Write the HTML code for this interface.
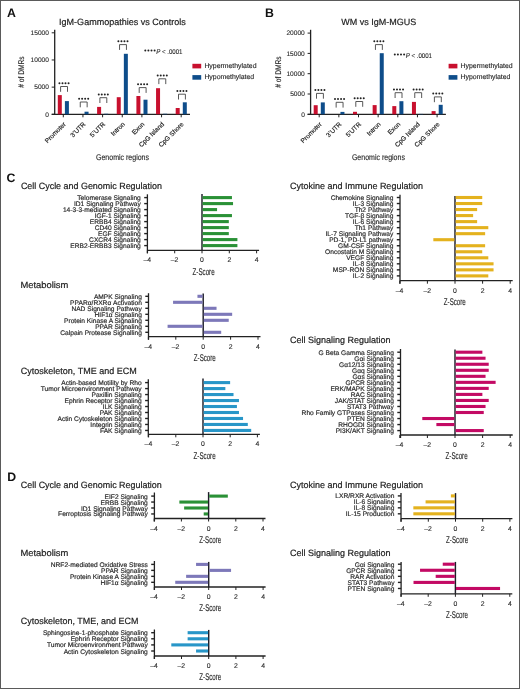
<!DOCTYPE html>
<html><head><meta charset="utf-8"><title>Figure</title>
<style>
html,body{margin:0;padding:0;background:#fff;}
body{width:520px;height:689px;overflow:hidden;position:relative;}
.frame{position:absolute;left:0;top:0;width:518px;height:687px;border:1px solid #5a5a5a;}
svg{position:absolute;left:0;top:0;font-family:"Liberation Sans", sans-serif;will-change:transform;text-rendering:geometricPrecision;}
</style></head>
<body>
<div class="frame"></div>
<svg width="520" height="689" viewBox="0 0 520 689" font-family='"Liberation Sans", sans-serif'>
<text x="7.00" y="16.80" font-size="12.3" font-weight="bold" fill="#111">A</text>
<text x="265.00" y="17.10" font-size="12.3" font-weight="bold" fill="#111">B</text>
<text x="6.60" y="181.80" font-size="12.3" font-weight="bold" fill="#111">C</text>
<text x="7.30" y="481.20" font-size="12.3" font-weight="bold" fill="#111">D</text>
<text x="59.10" y="24.60" font-size="9.1" textLength="126.7" lengthAdjust="spacingAndGlyphs" fill="#222" stroke="#222" stroke-width="0.2">IgM-Gammopathies vs Controls</text>
<line x1="54.70" y1="29.80" x2="54.70" y2="114.80" stroke="#222222" stroke-width="1.3"/>
<line x1="51.70" y1="114.30" x2="190.00" y2="114.30" stroke="#222222" stroke-width="1.3"/>
<line x1="51.70" y1="114.30" x2="54.70" y2="114.30" stroke="#222222" stroke-width="1.0"/>
<text x="48.90" y="116.60" font-size="6.6" text-anchor="end" fill="#2a2a2a" stroke="#2a2a2a" stroke-width="0.12">0</text>
<line x1="51.70" y1="87.13" x2="54.70" y2="87.13" stroke="#222222" stroke-width="1.0"/>
<text x="48.90" y="89.43" font-size="6.6" text-anchor="end" fill="#2a2a2a" stroke="#2a2a2a" stroke-width="0.12">5000</text>
<line x1="51.70" y1="59.97" x2="54.70" y2="59.97" stroke="#222222" stroke-width="1.0"/>
<text x="48.90" y="62.27" font-size="6.6" text-anchor="end" fill="#2a2a2a" stroke="#2a2a2a" stroke-width="0.12">10000</text>
<line x1="51.70" y1="32.80" x2="54.70" y2="32.80" stroke="#222222" stroke-width="1.0"/>
<text x="48.90" y="35.10" font-size="6.6" text-anchor="end" fill="#2a2a2a" stroke="#2a2a2a" stroke-width="0.12">15000</text>
<line x1="63.30" y1="114.30" x2="63.30" y2="117.30" stroke="#222222" stroke-width="1.0"/>
<rect x="57.80" y="95.10" width="4.00" height="19.20" fill="#c8102e"/>
<rect x="64.90" y="101.10" width="4.00" height="13.20" fill="#0e4d8a"/>
<path d="M60.60 91.80V86.50H67.50V91.80" fill="none" stroke="#444" stroke-width="0.9"/>
<circle cx="59.45" cy="83.20" r="1.0" fill="#222"/>
<circle cx="62.48" cy="83.20" r="1.0" fill="#222"/>
<circle cx="65.51" cy="83.20" r="1.0" fill="#222"/>
<circle cx="68.54" cy="83.20" r="1.0" fill="#222"/>
<text x="66.30" y="124.60" font-size="6.5" text-anchor="end" fill="#222" stroke="#222" stroke-width="0.18" transform="rotate(-45 66.30 124.60)">Promoter</text>
<line x1="82.95" y1="114.30" x2="82.95" y2="117.30" stroke="#222222" stroke-width="1.0"/>
<rect x="84.55" y="111.69" width="4.00" height="2.61" fill="#0e4d8a"/>
<path d="M80.25 107.30V102.00H87.15V107.30" fill="none" stroke="#444" stroke-width="0.9"/>
<circle cx="79.10" cy="98.70" r="1.0" fill="#222"/>
<circle cx="82.13" cy="98.70" r="1.0" fill="#222"/>
<circle cx="85.16" cy="98.70" r="1.0" fill="#222"/>
<circle cx="88.19" cy="98.70" r="1.0" fill="#222"/>
<text x="85.95" y="124.60" font-size="6.5" text-anchor="end" fill="#222" stroke="#222" stroke-width="0.18" transform="rotate(-45 85.95 124.60)">3&#8217;UTR</text>
<line x1="102.60" y1="114.30" x2="102.60" y2="117.30" stroke="#222222" stroke-width="1.0"/>
<rect x="97.10" y="106.90" width="4.00" height="7.40" fill="#c8102e"/>
<rect x="104.20" y="113.76" width="4.00" height="0.54" fill="#0e4d8a"/>
<path d="M99.90 103.00V97.70H106.80V103.00" fill="none" stroke="#444" stroke-width="0.9"/>
<circle cx="98.75" cy="94.40" r="1.0" fill="#222"/>
<circle cx="101.78" cy="94.40" r="1.0" fill="#222"/>
<circle cx="104.81" cy="94.40" r="1.0" fill="#222"/>
<circle cx="107.84" cy="94.40" r="1.0" fill="#222"/>
<text x="105.60" y="124.60" font-size="6.5" text-anchor="end" fill="#222" stroke="#222" stroke-width="0.18" transform="rotate(-45 105.60 124.60)">5&#8217;UTR</text>
<line x1="122.25" y1="114.30" x2="122.25" y2="117.30" stroke="#222222" stroke-width="1.0"/>
<rect x="116.75" y="97.20" width="4.00" height="17.10" fill="#c8102e"/>
<rect x="123.85" y="53.80" width="4.00" height="60.50" fill="#0e4d8a"/>
<path d="M119.55 49.90V44.60H126.45V49.90" fill="none" stroke="#444" stroke-width="0.9"/>
<circle cx="118.40" cy="41.30" r="1.0" fill="#222"/>
<circle cx="121.43" cy="41.30" r="1.0" fill="#222"/>
<circle cx="124.46" cy="41.30" r="1.0" fill="#222"/>
<circle cx="127.49" cy="41.30" r="1.0" fill="#222"/>
<text x="125.25" y="124.60" font-size="6.5" text-anchor="end" fill="#222" stroke="#222" stroke-width="0.18" transform="rotate(-45 125.25 124.60)">Intron</text>
<line x1="141.90" y1="114.30" x2="141.90" y2="117.30" stroke="#222222" stroke-width="1.0"/>
<rect x="136.40" y="96.00" width="4.00" height="18.30" fill="#c8102e"/>
<rect x="143.50" y="99.70" width="4.00" height="14.60" fill="#0e4d8a"/>
<path d="M139.20 92.90V87.60H146.10V92.90" fill="none" stroke="#444" stroke-width="0.9"/>
<circle cx="138.05" cy="84.30" r="1.0" fill="#222"/>
<circle cx="141.08" cy="84.30" r="1.0" fill="#222"/>
<circle cx="144.11" cy="84.30" r="1.0" fill="#222"/>
<circle cx="147.14" cy="84.30" r="1.0" fill="#222"/>
<text x="144.90" y="124.60" font-size="6.5" text-anchor="end" fill="#222" stroke="#222" stroke-width="0.18" transform="rotate(-45 144.90 124.60)">Exon</text>
<line x1="161.55" y1="114.30" x2="161.55" y2="117.30" stroke="#222222" stroke-width="1.0"/>
<rect x="156.05" y="88.20" width="4.00" height="26.10" fill="#c8102e"/>
<rect x="163.15" y="113.76" width="4.00" height="0.54" fill="#0e4d8a"/>
<path d="M158.85 84.10V78.80H165.75V84.10" fill="none" stroke="#444" stroke-width="0.9"/>
<circle cx="157.70" cy="75.50" r="1.0" fill="#222"/>
<circle cx="160.73" cy="75.50" r="1.0" fill="#222"/>
<circle cx="163.76" cy="75.50" r="1.0" fill="#222"/>
<circle cx="166.79" cy="75.50" r="1.0" fill="#222"/>
<text x="164.55" y="124.60" font-size="6.5" text-anchor="end" fill="#222" stroke="#222" stroke-width="0.18" transform="rotate(-45 164.55 124.60)">CpG Island</text>
<line x1="181.20" y1="114.30" x2="181.20" y2="117.30" stroke="#222222" stroke-width="1.0"/>
<rect x="175.70" y="108.00" width="4.00" height="6.30" fill="#c8102e"/>
<rect x="182.80" y="102.30" width="4.00" height="12.00" fill="#0e4d8a"/>
<path d="M178.50 99.50V94.20H185.40V99.50" fill="none" stroke="#444" stroke-width="0.9"/>
<circle cx="177.35" cy="90.90" r="1.0" fill="#222"/>
<circle cx="180.38" cy="90.90" r="1.0" fill="#222"/>
<circle cx="183.41" cy="90.90" r="1.0" fill="#222"/>
<circle cx="186.44" cy="90.90" r="1.0" fill="#222"/>
<text x="184.20" y="124.60" font-size="6.5" text-anchor="end" fill="#222" stroke="#222" stroke-width="0.18" transform="rotate(-45 184.20 124.60)">CpG Shore</text>
<text x="24.40" y="72.10" font-size="8.2" text-anchor="middle" fill="#2a2a2a" stroke="#2a2a2a" stroke-width="0.15" textLength="31.4" lengthAdjust="spacingAndGlyphs" transform="rotate(-90 24.40 72.10)"># of DMRs</text>
<text x="96.00" y="159.50" font-size="8.3" textLength="53" lengthAdjust="spacingAndGlyphs" fill="#2a2a2a" stroke="#2a2a2a" stroke-width="0.15">Genomic regions</text>
<circle cx="145.30" cy="50.50" r="1.0" fill="#222"/>
<circle cx="148.40" cy="50.50" r="1.0" fill="#222"/>
<circle cx="151.50" cy="50.50" r="1.0" fill="#222"/>
<circle cx="154.60" cy="50.50" r="1.0" fill="#222"/>
<text x="156.20" y="54.10" font-size="6.9" textLength="26.3" lengthAdjust="spacingAndGlyphs" fill="#2a2a2a" stroke="#2a2a2a" stroke-width="0.12"><tspan font-style="italic">P</tspan> &lt; .0001</text>
<rect x="192.40" y="63.80" width="8.80" height="4.60" fill="#c8102e"/>
<rect x="192.40" y="75.10" width="8.80" height="4.60" fill="#0e4d8a"/>
<text x="204.40" y="67.80" font-size="6.9" fill="#2a2a2a" stroke="#2a2a2a" stroke-width="0.15">Hypermethylated</text>
<text x="204.40" y="79.10" font-size="6.9" fill="#2a2a2a" stroke="#2a2a2a" stroke-width="0.15">Hypomethylated</text>
<text x="341.20" y="24.60" font-size="9.1" textLength="75.0" lengthAdjust="spacingAndGlyphs" fill="#222" stroke="#222" stroke-width="0.2">WM vs IgM-MGUS</text>
<line x1="310.60" y1="29.80" x2="310.60" y2="114.80" stroke="#222222" stroke-width="1.3"/>
<line x1="307.60" y1="114.30" x2="445.90" y2="114.30" stroke="#222222" stroke-width="1.3"/>
<line x1="307.60" y1="114.30" x2="310.60" y2="114.30" stroke="#222222" stroke-width="1.0"/>
<text x="304.80" y="116.60" font-size="6.6" text-anchor="end" fill="#2a2a2a" stroke="#2a2a2a" stroke-width="0.12">0</text>
<line x1="307.60" y1="94.00" x2="310.60" y2="94.00" stroke="#222222" stroke-width="1.0"/>
<text x="304.80" y="96.30" font-size="6.6" text-anchor="end" fill="#2a2a2a" stroke="#2a2a2a" stroke-width="0.12">5000</text>
<line x1="307.60" y1="73.70" x2="310.60" y2="73.70" stroke="#222222" stroke-width="1.0"/>
<text x="304.80" y="76.00" font-size="6.6" text-anchor="end" fill="#2a2a2a" stroke="#2a2a2a" stroke-width="0.12">10000</text>
<line x1="307.60" y1="53.40" x2="310.60" y2="53.40" stroke="#222222" stroke-width="1.0"/>
<text x="304.80" y="55.70" font-size="6.6" text-anchor="end" fill="#2a2a2a" stroke="#2a2a2a" stroke-width="0.12">15000</text>
<line x1="307.60" y1="33.10" x2="310.60" y2="33.10" stroke="#222222" stroke-width="1.0"/>
<text x="304.80" y="35.40" font-size="6.6" text-anchor="end" fill="#2a2a2a" stroke="#2a2a2a" stroke-width="0.12">20000</text>
<line x1="319.20" y1="114.30" x2="319.20" y2="117.30" stroke="#222222" stroke-width="1.0"/>
<rect x="313.70" y="105.20" width="4.00" height="9.10" fill="#c8102e"/>
<rect x="320.80" y="102.40" width="4.00" height="11.90" fill="#0e4d8a"/>
<path d="M316.50 98.70V93.40H323.40V98.70" fill="none" stroke="#444" stroke-width="0.9"/>
<circle cx="315.35" cy="90.10" r="1.0" fill="#222"/>
<circle cx="318.38" cy="90.10" r="1.0" fill="#222"/>
<circle cx="321.41" cy="90.10" r="1.0" fill="#222"/>
<circle cx="324.44" cy="90.10" r="1.0" fill="#222"/>
<text x="322.20" y="124.60" font-size="6.5" text-anchor="end" fill="#222" stroke="#222" stroke-width="0.18" transform="rotate(-45 322.20 124.60)">Promoter</text>
<line x1="338.85" y1="114.30" x2="338.85" y2="117.30" stroke="#222222" stroke-width="1.0"/>
<rect x="340.45" y="111.90" width="4.00" height="2.40" fill="#0e4d8a"/>
<path d="M336.15 107.60V102.30H343.05V107.60" fill="none" stroke="#444" stroke-width="0.9"/>
<circle cx="335.00" cy="99.00" r="1.0" fill="#222"/>
<circle cx="338.03" cy="99.00" r="1.0" fill="#222"/>
<circle cx="341.06" cy="99.00" r="1.0" fill="#222"/>
<circle cx="344.09" cy="99.00" r="1.0" fill="#222"/>
<text x="341.85" y="124.60" font-size="6.5" text-anchor="end" fill="#222" stroke="#222" stroke-width="0.18" transform="rotate(-45 341.85 124.60)">3&#8217;UTR</text>
<line x1="358.50" y1="114.30" x2="358.50" y2="117.30" stroke="#222222" stroke-width="1.0"/>
<rect x="353.00" y="111.80" width="4.00" height="2.50" fill="#c8102e"/>
<path d="M355.80 106.80V101.50H362.70V106.80" fill="none" stroke="#444" stroke-width="0.9"/>
<circle cx="354.65" cy="98.20" r="1.0" fill="#222"/>
<circle cx="357.68" cy="98.20" r="1.0" fill="#222"/>
<circle cx="360.71" cy="98.20" r="1.0" fill="#222"/>
<circle cx="363.74" cy="98.20" r="1.0" fill="#222"/>
<text x="361.50" y="124.60" font-size="6.5" text-anchor="end" fill="#222" stroke="#222" stroke-width="0.18" transform="rotate(-45 361.50 124.60)">5&#8217;UTR</text>
<line x1="378.15" y1="114.30" x2="378.15" y2="117.30" stroke="#222222" stroke-width="1.0"/>
<rect x="372.65" y="105.10" width="4.00" height="9.20" fill="#c8102e"/>
<rect x="379.75" y="53.20" width="4.00" height="61.10" fill="#0e4d8a"/>
<path d="M375.45 49.90V44.60H382.35V49.90" fill="none" stroke="#444" stroke-width="0.9"/>
<circle cx="374.30" cy="41.30" r="1.0" fill="#222"/>
<circle cx="377.33" cy="41.30" r="1.0" fill="#222"/>
<circle cx="380.36" cy="41.30" r="1.0" fill="#222"/>
<circle cx="383.39" cy="41.30" r="1.0" fill="#222"/>
<text x="381.15" y="124.60" font-size="6.5" text-anchor="end" fill="#222" stroke="#222" stroke-width="0.18" transform="rotate(-45 381.15 124.60)">Intron</text>
<line x1="397.80" y1="114.30" x2="397.80" y2="117.30" stroke="#222222" stroke-width="1.0"/>
<rect x="392.30" y="106.10" width="4.00" height="8.20" fill="#c8102e"/>
<rect x="399.40" y="101.20" width="4.00" height="13.10" fill="#0e4d8a"/>
<path d="M395.10 98.00V92.70H402.00V98.00" fill="none" stroke="#444" stroke-width="0.9"/>
<circle cx="393.95" cy="89.40" r="1.0" fill="#222"/>
<circle cx="396.98" cy="89.40" r="1.0" fill="#222"/>
<circle cx="400.01" cy="89.40" r="1.0" fill="#222"/>
<circle cx="403.04" cy="89.40" r="1.0" fill="#222"/>
<text x="400.80" y="124.60" font-size="6.5" text-anchor="end" fill="#222" stroke="#222" stroke-width="0.18" transform="rotate(-45 400.80 124.60)">Exon</text>
<line x1="417.45" y1="114.30" x2="417.45" y2="117.30" stroke="#222222" stroke-width="1.0"/>
<rect x="411.95" y="101.90" width="4.00" height="12.40" fill="#c8102e"/>
<rect x="419.05" y="113.93" width="4.00" height="0.37" fill="#0e4d8a"/>
<path d="M414.75 98.00V92.70H421.65V98.00" fill="none" stroke="#444" stroke-width="0.9"/>
<circle cx="413.60" cy="89.40" r="1.0" fill="#222"/>
<circle cx="416.63" cy="89.40" r="1.0" fill="#222"/>
<circle cx="419.66" cy="89.40" r="1.0" fill="#222"/>
<circle cx="422.69" cy="89.40" r="1.0" fill="#222"/>
<text x="420.45" y="124.60" font-size="6.5" text-anchor="end" fill="#222" stroke="#222" stroke-width="0.18" transform="rotate(-45 420.45 124.60)">CpG Island</text>
<line x1="437.10" y1="114.30" x2="437.10" y2="117.30" stroke="#222222" stroke-width="1.0"/>
<rect x="431.60" y="111.10" width="4.00" height="3.20" fill="#c8102e"/>
<rect x="438.70" y="104.80" width="4.00" height="9.50" fill="#0e4d8a"/>
<path d="M434.40 102.20V96.90H441.30V102.20" fill="none" stroke="#444" stroke-width="0.9"/>
<circle cx="433.25" cy="93.60" r="1.0" fill="#222"/>
<circle cx="436.28" cy="93.60" r="1.0" fill="#222"/>
<circle cx="439.31" cy="93.60" r="1.0" fill="#222"/>
<circle cx="442.34" cy="93.60" r="1.0" fill="#222"/>
<text x="440.10" y="124.60" font-size="6.5" text-anchor="end" fill="#222" stroke="#222" stroke-width="0.18" transform="rotate(-45 440.10 124.60)">CpG Shore</text>
<text x="280.80" y="72.10" font-size="8.2" text-anchor="middle" fill="#2a2a2a" stroke="#2a2a2a" stroke-width="0.15" textLength="31.4" lengthAdjust="spacingAndGlyphs" transform="rotate(-90 280.80 72.10)"># of DMRs</text>
<text x="351.90" y="159.50" font-size="8.3" textLength="53" lengthAdjust="spacingAndGlyphs" fill="#2a2a2a" stroke="#2a2a2a" stroke-width="0.15">Genomic regions</text>
<circle cx="394.80" cy="54.50" r="1.0" fill="#222"/>
<circle cx="397.90" cy="54.50" r="1.0" fill="#222"/>
<circle cx="401.00" cy="54.50" r="1.0" fill="#222"/>
<circle cx="404.10" cy="54.50" r="1.0" fill="#222"/>
<text x="405.70" y="58.10" font-size="6.9" textLength="26.3" lengthAdjust="spacingAndGlyphs" fill="#2a2a2a" stroke="#2a2a2a" stroke-width="0.12"><tspan font-style="italic">P</tspan> &lt; .0001</text>
<rect x="448.60" y="63.80" width="8.80" height="4.60" fill="#c8102e"/>
<rect x="448.60" y="75.10" width="8.80" height="4.60" fill="#0e4d8a"/>
<text x="460.60" y="67.80" font-size="6.9" fill="#2a2a2a" stroke="#2a2a2a" stroke-width="0.15">Hypermethylated</text>
<text x="460.60" y="79.10" font-size="6.9" fill="#2a2a2a" stroke="#2a2a2a" stroke-width="0.15">Hypomethylated</text>
<text x="20.90" y="189.20" font-size="9.1" textLength="141" lengthAdjust="spacingAndGlyphs" fill="#222" stroke="#222" stroke-width="0.2">Cell Cycle and Genomic Regulation</text>
<line x1="147.40" y1="194.30" x2="147.40" y2="253.30" stroke="#222222" stroke-width="1.3"/>
<line x1="147.40" y1="250.30" x2="259.10" y2="250.30" stroke="#222222" stroke-width="1.3"/>
<line x1="202.00" y1="193.90" x2="202.00" y2="250.30" stroke="#1e1e28" stroke-width="1.45"/>
<line x1="144.20" y1="197.60" x2="147.40" y2="197.60" stroke="#222222" stroke-width="1.4"/>
<text x="140.80" y="200.10" font-size="6.65" text-anchor="end" fill="#2a2a2a" stroke="#2a2a2a" stroke-width="0.18">Telomerase Signaling</text>
<rect x="202.60" y="196.05" width="29.35" height="3.10" fill="#2a9136"/>
<line x1="144.20" y1="203.60" x2="147.40" y2="203.60" stroke="#222222" stroke-width="1.4"/>
<text x="140.80" y="206.10" font-size="6.65" text-anchor="end" fill="#2a2a2a" stroke="#2a2a2a" stroke-width="0.18">ID1 Signaling Pathway</text>
<rect x="202.60" y="202.05" width="30.44" height="3.10" fill="#2a9136"/>
<line x1="144.20" y1="209.60" x2="147.40" y2="209.60" stroke="#222222" stroke-width="1.4"/>
<text x="140.80" y="212.10" font-size="6.65" text-anchor="end" fill="#2a2a2a" stroke="#2a2a2a" stroke-width="0.18">14-3-3-mediated Signaling</text>
<rect x="202.60" y="208.05" width="14.47" height="3.10" fill="#2a9136"/>
<line x1="144.20" y1="215.60" x2="147.40" y2="215.60" stroke="#222222" stroke-width="1.4"/>
<text x="140.80" y="218.10" font-size="6.65" text-anchor="end" fill="#2a2a2a" stroke="#2a2a2a" stroke-width="0.18">IGF-1 Signaling</text>
<rect x="202.60" y="214.05" width="29.35" height="3.10" fill="#2a9136"/>
<line x1="144.20" y1="221.60" x2="147.40" y2="221.60" stroke="#222222" stroke-width="1.4"/>
<text x="140.80" y="224.10" font-size="6.65" text-anchor="end" fill="#2a2a2a" stroke="#2a2a2a" stroke-width="0.18">ERBB4 Signaling</text>
<rect x="202.60" y="220.05" width="26.21" height="3.10" fill="#2a9136"/>
<line x1="144.20" y1="227.60" x2="147.40" y2="227.60" stroke="#222222" stroke-width="1.4"/>
<text x="140.80" y="230.10" font-size="6.65" text-anchor="end" fill="#2a2a2a" stroke="#2a2a2a" stroke-width="0.18">CD40 Signaling</text>
<rect x="202.60" y="226.05" width="26.21" height="3.10" fill="#2a9136"/>
<line x1="144.20" y1="233.60" x2="147.40" y2="233.60" stroke="#222222" stroke-width="1.4"/>
<text x="140.80" y="236.10" font-size="6.65" text-anchor="end" fill="#2a2a2a" stroke="#2a2a2a" stroke-width="0.18">EGF Signaling</text>
<rect x="202.60" y="232.05" width="26.21" height="3.10" fill="#2a9136"/>
<line x1="144.20" y1="239.60" x2="147.40" y2="239.60" stroke="#222222" stroke-width="1.4"/>
<text x="140.80" y="242.10" font-size="6.65" text-anchor="end" fill="#2a2a2a" stroke="#2a2a2a" stroke-width="0.18">CXCR4 Signaling</text>
<rect x="202.60" y="238.05" width="34.81" height="3.10" fill="#2a9136"/>
<line x1="144.20" y1="245.60" x2="147.40" y2="245.60" stroke="#222222" stroke-width="1.4"/>
<text x="140.80" y="248.10" font-size="6.65" text-anchor="end" fill="#2a2a2a" stroke="#2a2a2a" stroke-width="0.18">ERB2-ERBB3 Signaling</text>
<rect x="202.60" y="244.05" width="34.81" height="3.10" fill="#2a9136"/>
<line x1="147.40" y1="250.30" x2="147.40" y2="253.30" stroke="#222222" stroke-width="1.0"/>
<text x="147.20" y="262.40" font-size="6.85" text-anchor="middle" fill="#2a2a2a" stroke="#2a2a2a" stroke-width="0.12">–4</text>
<line x1="174.70" y1="250.30" x2="174.70" y2="253.30" stroke="#222222" stroke-width="1.0"/>
<text x="174.50" y="262.40" font-size="6.85" text-anchor="middle" fill="#2a2a2a" stroke="#2a2a2a" stroke-width="0.12">–2</text>
<line x1="202.00" y1="250.30" x2="202.00" y2="253.30" stroke="#222222" stroke-width="1.0"/>
<text x="202.00" y="262.40" font-size="6.85" text-anchor="middle" fill="#2a2a2a" stroke="#2a2a2a" stroke-width="0.12">0</text>
<line x1="229.30" y1="250.30" x2="229.30" y2="253.30" stroke="#222222" stroke-width="1.0"/>
<text x="229.30" y="262.40" font-size="6.85" text-anchor="middle" fill="#2a2a2a" stroke="#2a2a2a" stroke-width="0.12">2</text>
<line x1="256.60" y1="250.30" x2="256.60" y2="253.30" stroke="#222222" stroke-width="1.0"/>
<text x="256.60" y="262.40" font-size="6.85" text-anchor="middle" fill="#2a2a2a" stroke="#2a2a2a" stroke-width="0.12">4</text>
<text x="203.60" y="274.60" font-size="9.8" text-anchor="middle" textLength="22" lengthAdjust="spacingAndGlyphs" fill="#2a2a2a" stroke="#2a2a2a" stroke-width="0.15">Z-Score</text>
<text x="20.40" y="287.50" font-size="9.1" textLength="48.0" lengthAdjust="spacingAndGlyphs" fill="#222" stroke="#222" stroke-width="0.2">Metabolism</text>
<line x1="148.50" y1="293.20" x2="148.50" y2="339.70" stroke="#222222" stroke-width="1.3"/>
<line x1="148.50" y1="336.70" x2="260.50" y2="336.70" stroke="#222222" stroke-width="1.3"/>
<line x1="203.20" y1="293.60" x2="203.20" y2="336.70" stroke="#1e1e28" stroke-width="1.45"/>
<line x1="145.30" y1="296.30" x2="148.50" y2="296.30" stroke="#222222" stroke-width="1.4"/>
<text x="141.90" y="298.80" font-size="6.65" text-anchor="end" fill="#2a2a2a" stroke="#2a2a2a" stroke-width="0.18">AMPK Signaling</text>
<rect x="197.45" y="294.75" width="5.15" height="3.10" fill="#7d78b9"/>
<line x1="145.30" y1="302.30" x2="148.50" y2="302.30" stroke="#222222" stroke-width="1.4"/>
<text x="141.90" y="304.80" font-size="6.65" text-anchor="end" fill="#2a2a2a" stroke="#2a2a2a" stroke-width="0.18">PPARα/RXRα Activation</text>
<rect x="173.06" y="300.75" width="29.54" height="3.10" fill="#7d78b9"/>
<line x1="145.30" y1="308.30" x2="148.50" y2="308.30" stroke="#222222" stroke-width="1.4"/>
<text x="141.90" y="310.80" font-size="6.65" text-anchor="end" fill="#2a2a2a" stroke="#2a2a2a" stroke-width="0.18">NAD Signaling Pathway</text>
<rect x="203.80" y="306.75" width="12.74" height="3.10" fill="#7d78b9"/>
<line x1="145.30" y1="314.30" x2="148.50" y2="314.30" stroke="#222222" stroke-width="1.4"/>
<text x="141.90" y="316.80" font-size="6.65" text-anchor="end" fill="#2a2a2a" stroke="#2a2a2a" stroke-width="0.18">HIF1α Signaling</text>
<rect x="203.80" y="312.75" width="28.36" height="3.10" fill="#7d78b9"/>
<line x1="145.30" y1="320.30" x2="148.50" y2="320.30" stroke="#222222" stroke-width="1.4"/>
<text x="141.90" y="322.80" font-size="6.65" text-anchor="end" fill="#2a2a2a" stroke="#2a2a2a" stroke-width="0.18">Protein Kinase A Signaling</text>
<rect x="203.80" y="318.75" width="24.93" height="3.10" fill="#7d78b9"/>
<line x1="145.30" y1="326.30" x2="148.50" y2="326.30" stroke="#222222" stroke-width="1.4"/>
<text x="141.90" y="328.80" font-size="6.65" text-anchor="end" fill="#2a2a2a" stroke="#2a2a2a" stroke-width="0.18">PPAR Signaling</text>
<rect x="167.58" y="324.75" width="35.02" height="3.10" fill="#7d78b9"/>
<line x1="145.30" y1="332.30" x2="148.50" y2="332.30" stroke="#222222" stroke-width="1.4"/>
<text x="141.90" y="334.80" font-size="6.65" text-anchor="end" fill="#2a2a2a" stroke="#2a2a2a" stroke-width="0.18">Calpain Protease Signalling</text>
<rect x="203.80" y="330.75" width="17.40" height="3.10" fill="#7d78b9"/>
<line x1="148.40" y1="336.70" x2="148.40" y2="339.70" stroke="#222222" stroke-width="1.0"/>
<text x="148.20" y="348.80" font-size="6.85" text-anchor="middle" fill="#2a2a2a" stroke="#2a2a2a" stroke-width="0.12">–4</text>
<line x1="175.80" y1="336.70" x2="175.80" y2="339.70" stroke="#222222" stroke-width="1.0"/>
<text x="175.60" y="348.80" font-size="6.85" text-anchor="middle" fill="#2a2a2a" stroke="#2a2a2a" stroke-width="0.12">–2</text>
<line x1="203.20" y1="336.70" x2="203.20" y2="339.70" stroke="#222222" stroke-width="1.0"/>
<text x="203.20" y="348.80" font-size="6.85" text-anchor="middle" fill="#2a2a2a" stroke="#2a2a2a" stroke-width="0.12">0</text>
<line x1="230.60" y1="336.70" x2="230.60" y2="339.70" stroke="#222222" stroke-width="1.0"/>
<text x="230.60" y="348.80" font-size="6.85" text-anchor="middle" fill="#2a2a2a" stroke="#2a2a2a" stroke-width="0.12">2</text>
<line x1="258.00" y1="336.70" x2="258.00" y2="339.70" stroke="#222222" stroke-width="1.0"/>
<text x="258.00" y="348.80" font-size="6.85" text-anchor="middle" fill="#2a2a2a" stroke="#2a2a2a" stroke-width="0.12">4</text>
<text x="204.80" y="361.00" font-size="9.8" text-anchor="middle" textLength="22" lengthAdjust="spacingAndGlyphs" fill="#2a2a2a" stroke="#2a2a2a" stroke-width="0.15">Z-Score</text>
<text x="20.80" y="374.30" font-size="9.1" textLength="116.0" lengthAdjust="spacingAndGlyphs" fill="#222" stroke="#222" stroke-width="0.2">Cytoskeleton, TME and ECM</text>
<line x1="148.30" y1="379.20" x2="148.30" y2="437.30" stroke="#222222" stroke-width="1.3"/>
<line x1="148.30" y1="434.30" x2="259.90" y2="434.30" stroke="#222222" stroke-width="1.3"/>
<line x1="203.00" y1="378.50" x2="203.00" y2="434.30" stroke="#1e1e28" stroke-width="1.45"/>
<line x1="145.10" y1="382.60" x2="148.30" y2="382.60" stroke="#222222" stroke-width="1.4"/>
<text x="141.70" y="385.10" font-size="6.65" text-anchor="end" fill="#2a2a2a" stroke="#2a2a2a" stroke-width="0.18">Actin-based Motility by Rho</text>
<rect x="203.60" y="381.05" width="26.52" height="3.10" fill="#2896c8"/>
<line x1="145.10" y1="388.58" x2="148.30" y2="388.58" stroke="#222222" stroke-width="1.4"/>
<text x="141.70" y="391.08" font-size="6.65" text-anchor="end" fill="#2a2a2a" stroke="#2a2a2a" stroke-width="0.18">Tumor Microenvironment Pathway</text>
<rect x="203.60" y="387.03" width="21.76" height="3.10" fill="#2896c8"/>
<line x1="145.10" y1="394.56" x2="148.30" y2="394.56" stroke="#222222" stroke-width="1.4"/>
<text x="141.70" y="397.06" font-size="6.65" text-anchor="end" fill="#2a2a2a" stroke="#2a2a2a" stroke-width="0.18">Paxillin Signaling</text>
<rect x="203.60" y="393.01" width="29.92" height="3.10" fill="#2896c8"/>
<line x1="145.10" y1="400.54" x2="148.30" y2="400.54" stroke="#222222" stroke-width="1.4"/>
<text x="141.70" y="403.04" font-size="6.65" text-anchor="end" fill="#2a2a2a" stroke="#2a2a2a" stroke-width="0.18">Ephrin Receptor Signaling</text>
<rect x="203.60" y="398.99" width="35.36" height="3.10" fill="#2896c8"/>
<line x1="145.10" y1="406.52" x2="148.30" y2="406.52" stroke="#222222" stroke-width="1.4"/>
<text x="141.70" y="409.02" font-size="6.65" text-anchor="end" fill="#2a2a2a" stroke="#2a2a2a" stroke-width="0.18">ILK Signaling</text>
<rect x="203.60" y="404.97" width="33.32" height="3.10" fill="#2896c8"/>
<line x1="145.10" y1="412.50" x2="148.30" y2="412.50" stroke="#222222" stroke-width="1.4"/>
<text x="141.70" y="415.00" font-size="6.65" text-anchor="end" fill="#2a2a2a" stroke="#2a2a2a" stroke-width="0.18">PAK Signaling</text>
<rect x="203.60" y="410.95" width="35.36" height="3.10" fill="#2896c8"/>
<line x1="145.10" y1="418.48" x2="148.30" y2="418.48" stroke="#222222" stroke-width="1.4"/>
<text x="141.70" y="420.98" font-size="6.65" text-anchor="end" fill="#2a2a2a" stroke="#2a2a2a" stroke-width="0.18">Actin Cytoskeleton Signaling</text>
<rect x="203.60" y="416.93" width="39.44" height="3.10" fill="#2896c8"/>
<line x1="145.10" y1="424.46" x2="148.30" y2="424.46" stroke="#222222" stroke-width="1.4"/>
<text x="141.70" y="426.96" font-size="6.65" text-anchor="end" fill="#2a2a2a" stroke="#2a2a2a" stroke-width="0.18">Integrin Signaling</text>
<rect x="203.60" y="422.91" width="44.20" height="3.10" fill="#2896c8"/>
<line x1="145.10" y1="430.44" x2="148.30" y2="430.44" stroke="#222222" stroke-width="1.4"/>
<text x="141.70" y="432.94" font-size="6.65" text-anchor="end" fill="#2a2a2a" stroke="#2a2a2a" stroke-width="0.18">FAK Signaling</text>
<rect x="203.60" y="428.89" width="47.60" height="3.10" fill="#2896c8"/>
<line x1="148.60" y1="434.30" x2="148.60" y2="437.30" stroke="#222222" stroke-width="1.0"/>
<text x="148.40" y="446.40" font-size="6.85" text-anchor="middle" fill="#2a2a2a" stroke="#2a2a2a" stroke-width="0.12">–4</text>
<line x1="175.80" y1="434.30" x2="175.80" y2="437.30" stroke="#222222" stroke-width="1.0"/>
<text x="175.60" y="446.40" font-size="6.85" text-anchor="middle" fill="#2a2a2a" stroke="#2a2a2a" stroke-width="0.12">–2</text>
<line x1="203.00" y1="434.30" x2="203.00" y2="437.30" stroke="#222222" stroke-width="1.0"/>
<text x="203.00" y="446.40" font-size="6.85" text-anchor="middle" fill="#2a2a2a" stroke="#2a2a2a" stroke-width="0.12">0</text>
<line x1="230.20" y1="434.30" x2="230.20" y2="437.30" stroke="#222222" stroke-width="1.0"/>
<text x="230.20" y="446.40" font-size="6.85" text-anchor="middle" fill="#2a2a2a" stroke="#2a2a2a" stroke-width="0.12">2</text>
<line x1="257.40" y1="434.30" x2="257.40" y2="437.30" stroke="#222222" stroke-width="1.0"/>
<text x="257.40" y="446.40" font-size="6.85" text-anchor="middle" fill="#2a2a2a" stroke="#2a2a2a" stroke-width="0.12">4</text>
<text x="204.60" y="458.60" font-size="9.8" text-anchor="middle" textLength="22" lengthAdjust="spacingAndGlyphs" fill="#2a2a2a" stroke="#2a2a2a" stroke-width="0.15">Z-Score</text>
<text x="289.90" y="189.10" font-size="9.1" textLength="133" lengthAdjust="spacingAndGlyphs" fill="#222" stroke="#222" stroke-width="0.2">Cytokine and Immune Regulation</text>
<line x1="400.00" y1="194.80" x2="400.00" y2="283.70" stroke="#222222" stroke-width="1.3"/>
<line x1="400.00" y1="280.70" x2="512.70" y2="280.70" stroke="#222222" stroke-width="1.3"/>
<line x1="455.00" y1="195.90" x2="455.00" y2="280.70" stroke="#1e1e28" stroke-width="1.45"/>
<line x1="396.80" y1="197.50" x2="400.00" y2="197.50" stroke="#222222" stroke-width="1.4"/>
<text x="393.40" y="200.00" font-size="6.65" text-anchor="end" fill="#2a2a2a" stroke="#2a2a2a" stroke-width="0.18">Chemokine Signaling</text>
<rect x="455.60" y="195.95" width="26.63" height="3.10" fill="#e4b21e"/>
<line x1="396.80" y1="203.53" x2="400.00" y2="203.53" stroke="#222222" stroke-width="1.4"/>
<text x="393.40" y="206.03" font-size="6.65" text-anchor="end" fill="#2a2a2a" stroke="#2a2a2a" stroke-width="0.18">IL-3 Signaling</text>
<rect x="455.60" y="201.98" width="26.63" height="3.10" fill="#e4b21e"/>
<line x1="396.80" y1="209.56" x2="400.00" y2="209.56" stroke="#222222" stroke-width="1.4"/>
<text x="393.40" y="212.06" font-size="6.65" text-anchor="end" fill="#2a2a2a" stroke="#2a2a2a" stroke-width="0.18">Th2 Pathway</text>
<rect x="455.60" y="208.01" width="21.53" height="3.10" fill="#e4b21e"/>
<line x1="396.80" y1="215.59" x2="400.00" y2="215.59" stroke="#222222" stroke-width="1.4"/>
<text x="393.40" y="218.09" font-size="6.65" text-anchor="end" fill="#2a2a2a" stroke="#2a2a2a" stroke-width="0.18">TGF-β Signaling</text>
<rect x="455.60" y="214.04" width="17.53" height="3.10" fill="#e4b21e"/>
<line x1="396.80" y1="221.62" x2="400.00" y2="221.62" stroke="#222222" stroke-width="1.4"/>
<text x="393.40" y="224.12" font-size="6.65" text-anchor="end" fill="#2a2a2a" stroke="#2a2a2a" stroke-width="0.18">IL-6 Signaling</text>
<rect x="455.60" y="220.07" width="21.53" height="3.10" fill="#e4b21e"/>
<line x1="396.80" y1="227.65" x2="400.00" y2="227.65" stroke="#222222" stroke-width="1.4"/>
<text x="393.40" y="230.15" font-size="6.65" text-anchor="end" fill="#2a2a2a" stroke="#2a2a2a" stroke-width="0.18">Th1 Pathway</text>
<rect x="455.60" y="226.10" width="32.71" height="3.10" fill="#e4b21e"/>
<line x1="396.80" y1="233.68" x2="400.00" y2="233.68" stroke="#222222" stroke-width="1.4"/>
<text x="393.40" y="236.18" font-size="6.65" text-anchor="end" fill="#2a2a2a" stroke="#2a2a2a" stroke-width="0.18">IL-7 Signaling Pathway</text>
<rect x="455.60" y="232.13" width="29.53" height="3.10" fill="#e4b21e"/>
<line x1="396.80" y1="239.71" x2="400.00" y2="239.71" stroke="#222222" stroke-width="1.4"/>
<text x="393.40" y="242.21" font-size="6.65" text-anchor="end" fill="#2a2a2a" stroke="#2a2a2a" stroke-width="0.18">PD-1, PD-L1 pathway</text>
<rect x="433.33" y="238.16" width="21.07" height="3.10" fill="#e4b21e"/>
<line x1="396.80" y1="245.74" x2="400.00" y2="245.74" stroke="#222222" stroke-width="1.4"/>
<text x="393.40" y="248.24" font-size="6.65" text-anchor="end" fill="#2a2a2a" stroke="#2a2a2a" stroke-width="0.18">GM-CSF Signaling</text>
<rect x="455.60" y="244.19" width="29.53" height="3.10" fill="#e4b21e"/>
<line x1="396.80" y1="251.77" x2="400.00" y2="251.77" stroke="#222222" stroke-width="1.4"/>
<text x="393.40" y="254.27" font-size="6.65" text-anchor="end" fill="#2a2a2a" stroke="#2a2a2a" stroke-width="0.18">Oncostatin M Signaling</text>
<rect x="455.60" y="250.22" width="26.63" height="3.10" fill="#e4b21e"/>
<line x1="396.80" y1="257.80" x2="400.00" y2="257.80" stroke="#222222" stroke-width="1.4"/>
<text x="393.40" y="260.30" font-size="6.65" text-anchor="end" fill="#2a2a2a" stroke="#2a2a2a" stroke-width="0.18">VEGF Signaling</text>
<rect x="455.60" y="256.25" width="32.71" height="3.10" fill="#e4b21e"/>
<line x1="396.80" y1="263.83" x2="400.00" y2="263.83" stroke="#222222" stroke-width="1.4"/>
<text x="393.40" y="266.33" font-size="6.65" text-anchor="end" fill="#2a2a2a" stroke="#2a2a2a" stroke-width="0.18">IL-8 Signaling</text>
<rect x="455.60" y="262.28" width="37.95" height="3.10" fill="#e4b21e"/>
<line x1="396.80" y1="269.86" x2="400.00" y2="269.86" stroke="#222222" stroke-width="1.4"/>
<text x="393.40" y="272.36" font-size="6.65" text-anchor="end" fill="#2a2a2a" stroke="#2a2a2a" stroke-width="0.18">MSP-RON Signaling</text>
<rect x="455.60" y="268.31" width="37.95" height="3.10" fill="#e4b21e"/>
<line x1="396.80" y1="275.89" x2="400.00" y2="275.89" stroke="#222222" stroke-width="1.4"/>
<text x="393.40" y="278.39" font-size="6.65" text-anchor="end" fill="#2a2a2a" stroke="#2a2a2a" stroke-width="0.18">IL-2 Signaling</text>
<rect x="455.60" y="274.34" width="32.71" height="3.10" fill="#e4b21e"/>
<line x1="399.80" y1="280.70" x2="399.80" y2="283.70" stroke="#222222" stroke-width="1.0"/>
<text x="399.60" y="292.80" font-size="6.85" text-anchor="middle" fill="#2a2a2a" stroke="#2a2a2a" stroke-width="0.12">–4</text>
<line x1="427.40" y1="280.70" x2="427.40" y2="283.70" stroke="#222222" stroke-width="1.0"/>
<text x="427.20" y="292.80" font-size="6.85" text-anchor="middle" fill="#2a2a2a" stroke="#2a2a2a" stroke-width="0.12">–2</text>
<line x1="455.00" y1="280.70" x2="455.00" y2="283.70" stroke="#222222" stroke-width="1.0"/>
<text x="455.00" y="292.80" font-size="6.85" text-anchor="middle" fill="#2a2a2a" stroke="#2a2a2a" stroke-width="0.12">0</text>
<line x1="482.60" y1="280.70" x2="482.60" y2="283.70" stroke="#222222" stroke-width="1.0"/>
<text x="482.60" y="292.80" font-size="6.85" text-anchor="middle" fill="#2a2a2a" stroke="#2a2a2a" stroke-width="0.12">2</text>
<line x1="510.20" y1="280.70" x2="510.20" y2="283.70" stroke="#222222" stroke-width="1.0"/>
<text x="510.20" y="292.80" font-size="6.85" text-anchor="middle" fill="#2a2a2a" stroke="#2a2a2a" stroke-width="0.12">4</text>
<text x="454.80" y="305.00" font-size="9.8" text-anchor="middle" textLength="22" lengthAdjust="spacingAndGlyphs" fill="#2a2a2a" stroke="#2a2a2a" stroke-width="0.15">Z-Score</text>
<text x="290.10" y="343.00" font-size="9.1" textLength="100.5" lengthAdjust="spacingAndGlyphs" fill="#222" stroke="#222" stroke-width="0.2">Cell Signaling Regulation</text>
<line x1="400.50" y1="349.00" x2="400.50" y2="438.00" stroke="#222222" stroke-width="1.3"/>
<line x1="400.50" y1="435.00" x2="512.70" y2="435.00" stroke="#222222" stroke-width="1.3"/>
<line x1="455.00" y1="349.40" x2="455.00" y2="435.00" stroke="#1e1e28" stroke-width="1.45"/>
<line x1="397.30" y1="352.20" x2="400.50" y2="352.20" stroke="#222222" stroke-width="1.4"/>
<text x="393.90" y="354.70" font-size="6.65" text-anchor="end" fill="#2a2a2a" stroke="#2a2a2a" stroke-width="0.18">G Beta Gamma Signaling</text>
<rect x="455.60" y="350.65" width="26.77" height="3.10" fill="#c30a64"/>
<line x1="397.30" y1="358.23" x2="400.50" y2="358.23" stroke="#222222" stroke-width="1.4"/>
<text x="393.90" y="360.73" font-size="6.65" text-anchor="end" fill="#2a2a2a" stroke="#2a2a2a" stroke-width="0.18">Gαi Signaling</text>
<rect x="455.60" y="356.68" width="29.95" height="3.10" fill="#c30a64"/>
<line x1="397.30" y1="364.26" x2="400.50" y2="364.26" stroke="#222222" stroke-width="1.4"/>
<text x="393.90" y="366.76" font-size="6.65" text-anchor="end" fill="#2a2a2a" stroke="#2a2a2a" stroke-width="0.18">Gα12/13 Signaling</text>
<rect x="455.60" y="362.71" width="33.12" height="3.10" fill="#c30a64"/>
<line x1="397.30" y1="370.29" x2="400.50" y2="370.29" stroke="#222222" stroke-width="1.4"/>
<text x="393.90" y="372.79" font-size="6.65" text-anchor="end" fill="#2a2a2a" stroke="#2a2a2a" stroke-width="0.18">Gαq Signaling</text>
<rect x="455.60" y="368.74" width="33.12" height="3.10" fill="#c30a64"/>
<line x1="397.30" y1="376.32" x2="400.50" y2="376.32" stroke="#222222" stroke-width="1.4"/>
<text x="393.90" y="378.82" font-size="6.65" text-anchor="end" fill="#2a2a2a" stroke="#2a2a2a" stroke-width="0.18">Gαs Signaling</text>
<rect x="455.60" y="374.77" width="29.95" height="3.10" fill="#c30a64"/>
<line x1="397.30" y1="382.35" x2="400.50" y2="382.35" stroke="#222222" stroke-width="1.4"/>
<text x="393.90" y="384.85" font-size="6.65" text-anchor="end" fill="#2a2a2a" stroke="#2a2a2a" stroke-width="0.18">GPCR Signaling</text>
<rect x="455.60" y="380.80" width="40.02" height="3.10" fill="#c30a64"/>
<line x1="397.30" y1="388.38" x2="400.50" y2="388.38" stroke="#222222" stroke-width="1.4"/>
<text x="393.90" y="390.88" font-size="6.65" text-anchor="end" fill="#2a2a2a" stroke="#2a2a2a" stroke-width="0.18">ERK/MAPK Signaling</text>
<rect x="455.60" y="386.83" width="33.12" height="3.10" fill="#c30a64"/>
<line x1="397.30" y1="394.41" x2="400.50" y2="394.41" stroke="#222222" stroke-width="1.4"/>
<text x="393.90" y="396.91" font-size="6.65" text-anchor="end" fill="#2a2a2a" stroke="#2a2a2a" stroke-width="0.18">RAC Signaling</text>
<rect x="455.60" y="392.86" width="26.77" height="3.10" fill="#c30a64"/>
<line x1="397.30" y1="400.44" x2="400.50" y2="400.44" stroke="#222222" stroke-width="1.4"/>
<text x="393.90" y="402.94" font-size="6.65" text-anchor="end" fill="#2a2a2a" stroke="#2a2a2a" stroke-width="0.18">JAK/STAT Signaling</text>
<rect x="455.60" y="398.89" width="33.12" height="3.10" fill="#c30a64"/>
<line x1="397.30" y1="406.47" x2="400.50" y2="406.47" stroke="#222222" stroke-width="1.4"/>
<text x="393.90" y="408.97" font-size="6.65" text-anchor="end" fill="#2a2a2a" stroke="#2a2a2a" stroke-width="0.18">STAT3 Pathway</text>
<rect x="455.60" y="404.92" width="29.95" height="3.10" fill="#c30a64"/>
<line x1="397.30" y1="412.50" x2="400.50" y2="412.50" stroke="#222222" stroke-width="1.4"/>
<text x="393.90" y="415.00" font-size="6.65" text-anchor="end" fill="#2a2a2a" stroke="#2a2a2a" stroke-width="0.18">Rho Family GTPases Signaling</text>
<rect x="455.60" y="410.95" width="28.15" height="3.10" fill="#c30a64"/>
<line x1="397.30" y1="418.53" x2="400.50" y2="418.53" stroke="#222222" stroke-width="1.4"/>
<text x="393.90" y="421.03" font-size="6.65" text-anchor="end" fill="#2a2a2a" stroke="#2a2a2a" stroke-width="0.18">PTEN Signaling</text>
<rect x="422.29" y="416.98" width="32.11" height="3.10" fill="#c30a64"/>
<line x1="397.30" y1="424.56" x2="400.50" y2="424.56" stroke="#222222" stroke-width="1.4"/>
<text x="393.90" y="427.06" font-size="6.65" text-anchor="end" fill="#2a2a2a" stroke="#2a2a2a" stroke-width="0.18">RHOGDI Signaling</text>
<rect x="436.37" y="423.01" width="18.03" height="3.10" fill="#c30a64"/>
<line x1="397.30" y1="430.59" x2="400.50" y2="430.59" stroke="#222222" stroke-width="1.4"/>
<text x="393.90" y="433.09" font-size="6.65" text-anchor="end" fill="#2a2a2a" stroke="#2a2a2a" stroke-width="0.18">PI3K/AKT Signaling</text>
<rect x="455.60" y="429.04" width="28.15" height="3.10" fill="#c30a64"/>
<line x1="399.80" y1="435.00" x2="399.80" y2="438.00" stroke="#222222" stroke-width="1.0"/>
<text x="399.60" y="447.10" font-size="6.85" text-anchor="middle" fill="#2a2a2a" stroke="#2a2a2a" stroke-width="0.12">–4</text>
<line x1="427.40" y1="435.00" x2="427.40" y2="438.00" stroke="#222222" stroke-width="1.0"/>
<text x="427.20" y="447.10" font-size="6.85" text-anchor="middle" fill="#2a2a2a" stroke="#2a2a2a" stroke-width="0.12">–2</text>
<line x1="455.00" y1="435.00" x2="455.00" y2="438.00" stroke="#222222" stroke-width="1.0"/>
<text x="455.00" y="447.10" font-size="6.85" text-anchor="middle" fill="#2a2a2a" stroke="#2a2a2a" stroke-width="0.12">0</text>
<line x1="482.60" y1="435.00" x2="482.60" y2="438.00" stroke="#222222" stroke-width="1.0"/>
<text x="482.60" y="447.10" font-size="6.85" text-anchor="middle" fill="#2a2a2a" stroke="#2a2a2a" stroke-width="0.12">2</text>
<line x1="510.20" y1="435.00" x2="510.20" y2="438.00" stroke="#222222" stroke-width="1.0"/>
<text x="510.20" y="447.10" font-size="6.85" text-anchor="middle" fill="#2a2a2a" stroke="#2a2a2a" stroke-width="0.12">4</text>
<text x="456.60" y="459.30" font-size="9.8" text-anchor="middle" textLength="22" lengthAdjust="spacingAndGlyphs" fill="#2a2a2a" stroke="#2a2a2a" stroke-width="0.15">Z-Score</text>
<text x="20.80" y="487.70" font-size="9.1" textLength="141" lengthAdjust="spacingAndGlyphs" fill="#222" stroke="#222" stroke-width="0.2">Cell Cycle and Genomic Regulation</text>
<line x1="154.40" y1="492.50" x2="154.40" y2="521.50" stroke="#222222" stroke-width="1.3"/>
<line x1="154.40" y1="518.50" x2="265.50" y2="518.50" stroke="#222222" stroke-width="1.3"/>
<line x1="208.60" y1="492.10" x2="208.60" y2="518.50" stroke="#1e1e28" stroke-width="1.45"/>
<line x1="151.20" y1="496.10" x2="154.40" y2="496.10" stroke="#222222" stroke-width="1.4"/>
<text x="147.80" y="498.60" font-size="6.65" text-anchor="end" fill="#2a2a2a" stroke="#2a2a2a" stroke-width="0.18">EIF2 Signaling</text>
<rect x="209.20" y="494.55" width="18.63" height="3.10" fill="#2a9136"/>
<line x1="151.20" y1="502.05" x2="154.40" y2="502.05" stroke="#222222" stroke-width="1.4"/>
<text x="147.80" y="504.55" font-size="6.65" text-anchor="end" fill="#2a2a2a" stroke="#2a2a2a" stroke-width="0.18">ERBB Signaling</text>
<rect x="179.36" y="500.50" width="28.64" height="3.10" fill="#2a9136"/>
<line x1="151.20" y1="508.00" x2="154.40" y2="508.00" stroke="#222222" stroke-width="1.4"/>
<text x="147.80" y="510.50" font-size="6.65" text-anchor="end" fill="#2a2a2a" stroke="#2a2a2a" stroke-width="0.18">ID1 Signaling Pathway</text>
<rect x="184.12" y="506.45" width="23.88" height="3.10" fill="#2a9136"/>
<line x1="151.20" y1="513.95" x2="154.40" y2="513.95" stroke="#222222" stroke-width="1.4"/>
<text x="147.80" y="516.45" font-size="6.65" text-anchor="end" fill="#2a2a2a" stroke="#2a2a2a" stroke-width="0.18">Ferroptosis Signaling Pathway</text>
<rect x="203.70" y="512.40" width="4.30" height="3.10" fill="#2a9136"/>
<line x1="154.20" y1="518.50" x2="154.20" y2="521.50" stroke="#222222" stroke-width="1.0"/>
<text x="154.00" y="530.60" font-size="6.85" text-anchor="middle" fill="#2a2a2a" stroke="#2a2a2a" stroke-width="0.12">–4</text>
<line x1="181.40" y1="518.50" x2="181.40" y2="521.50" stroke="#222222" stroke-width="1.0"/>
<text x="181.20" y="530.60" font-size="6.85" text-anchor="middle" fill="#2a2a2a" stroke="#2a2a2a" stroke-width="0.12">–2</text>
<line x1="208.60" y1="518.50" x2="208.60" y2="521.50" stroke="#222222" stroke-width="1.0"/>
<text x="208.60" y="530.60" font-size="6.85" text-anchor="middle" fill="#2a2a2a" stroke="#2a2a2a" stroke-width="0.12">0</text>
<line x1="235.80" y1="518.50" x2="235.80" y2="521.50" stroke="#222222" stroke-width="1.0"/>
<text x="235.80" y="530.60" font-size="6.85" text-anchor="middle" fill="#2a2a2a" stroke="#2a2a2a" stroke-width="0.12">2</text>
<line x1="263.00" y1="518.50" x2="263.00" y2="521.50" stroke="#222222" stroke-width="1.0"/>
<text x="263.00" y="530.60" font-size="6.85" text-anchor="middle" fill="#2a2a2a" stroke="#2a2a2a" stroke-width="0.12">4</text>
<text x="210.20" y="542.80" font-size="9.8" text-anchor="middle" textLength="22" lengthAdjust="spacingAndGlyphs" fill="#2a2a2a" stroke="#2a2a2a" stroke-width="0.15">Z-Score</text>
<text x="20.40" y="556.00" font-size="9.1" textLength="48.0" lengthAdjust="spacingAndGlyphs" fill="#222" stroke="#222" stroke-width="0.2">Metabolism</text>
<line x1="154.40" y1="561.00" x2="154.40" y2="590.00" stroke="#222222" stroke-width="1.3"/>
<line x1="154.40" y1="587.00" x2="265.60" y2="587.00" stroke="#222222" stroke-width="1.3"/>
<line x1="208.70" y1="561.90" x2="208.70" y2="587.00" stroke="#1e1e28" stroke-width="1.45"/>
<line x1="151.20" y1="564.40" x2="154.40" y2="564.40" stroke="#222222" stroke-width="1.4"/>
<text x="147.80" y="566.90" font-size="6.65" text-anchor="end" fill="#2a2a2a" stroke="#2a2a2a" stroke-width="0.18">NRF2-mediated Oxidative Stress</text>
<rect x="196.05" y="562.85" width="12.05" height="3.10" fill="#7d78b9"/>
<line x1="151.20" y1="570.37" x2="154.40" y2="570.37" stroke="#222222" stroke-width="1.4"/>
<text x="147.80" y="572.87" font-size="6.65" text-anchor="end" fill="#2a2a2a" stroke="#2a2a2a" stroke-width="0.18">PPAR Signaling</text>
<rect x="209.30" y="568.82" width="21.76" height="3.10" fill="#7d78b9"/>
<line x1="151.20" y1="576.34" x2="154.40" y2="576.34" stroke="#222222" stroke-width="1.4"/>
<text x="147.80" y="578.84" font-size="6.65" text-anchor="end" fill="#2a2a2a" stroke="#2a2a2a" stroke-width="0.18">Protein Kinase A Signaling</text>
<rect x="186.12" y="574.79" width="21.98" height="3.10" fill="#7d78b9"/>
<line x1="151.20" y1="582.31" x2="154.40" y2="582.31" stroke="#222222" stroke-width="1.4"/>
<text x="147.80" y="584.81" font-size="6.65" text-anchor="end" fill="#2a2a2a" stroke="#2a2a2a" stroke-width="0.18">HIF1α Signaling</text>
<rect x="175.24" y="580.76" width="32.86" height="3.10" fill="#7d78b9"/>
<line x1="154.30" y1="587.00" x2="154.30" y2="590.00" stroke="#222222" stroke-width="1.0"/>
<text x="154.10" y="599.10" font-size="6.85" text-anchor="middle" fill="#2a2a2a" stroke="#2a2a2a" stroke-width="0.12">–4</text>
<line x1="181.50" y1="587.00" x2="181.50" y2="590.00" stroke="#222222" stroke-width="1.0"/>
<text x="181.30" y="599.10" font-size="6.85" text-anchor="middle" fill="#2a2a2a" stroke="#2a2a2a" stroke-width="0.12">–2</text>
<line x1="208.70" y1="587.00" x2="208.70" y2="590.00" stroke="#222222" stroke-width="1.0"/>
<text x="208.70" y="599.10" font-size="6.85" text-anchor="middle" fill="#2a2a2a" stroke="#2a2a2a" stroke-width="0.12">0</text>
<line x1="235.90" y1="587.00" x2="235.90" y2="590.00" stroke="#222222" stroke-width="1.0"/>
<text x="235.90" y="599.10" font-size="6.85" text-anchor="middle" fill="#2a2a2a" stroke="#2a2a2a" stroke-width="0.12">2</text>
<line x1="263.10" y1="587.00" x2="263.10" y2="590.00" stroke="#222222" stroke-width="1.0"/>
<text x="263.10" y="599.10" font-size="6.85" text-anchor="middle" fill="#2a2a2a" stroke="#2a2a2a" stroke-width="0.12">4</text>
<text x="210.30" y="611.30" font-size="9.8" text-anchor="middle" textLength="22" lengthAdjust="spacingAndGlyphs" fill="#2a2a2a" stroke="#2a2a2a" stroke-width="0.15">Z-Score</text>
<text x="20.80" y="624.20" font-size="9.1" textLength="117.6" lengthAdjust="spacingAndGlyphs" fill="#222" stroke="#222" stroke-width="0.2">Cytoskeleton, TME, and ECM</text>
<line x1="154.40" y1="629.50" x2="154.40" y2="659.00" stroke="#222222" stroke-width="1.3"/>
<line x1="154.40" y1="656.00" x2="265.60" y2="656.00" stroke="#222222" stroke-width="1.3"/>
<line x1="208.70" y1="629.90" x2="208.70" y2="656.00" stroke="#1e1e28" stroke-width="1.45"/>
<line x1="151.20" y1="632.70" x2="154.40" y2="632.70" stroke="#222222" stroke-width="1.4"/>
<text x="147.80" y="635.20" font-size="6.65" text-anchor="end" fill="#2a2a2a" stroke="#2a2a2a" stroke-width="0.18">Sphingosine-1-phosphate Signaling</text>
<rect x="187.62" y="631.15" width="20.48" height="3.10" fill="#2896c8"/>
<line x1="151.20" y1="638.80" x2="154.40" y2="638.80" stroke="#222222" stroke-width="1.4"/>
<text x="147.80" y="641.30" font-size="6.65" text-anchor="end" fill="#2a2a2a" stroke="#2a2a2a" stroke-width="0.18">Ephrin Receptor Signaling</text>
<rect x="187.62" y="637.25" width="20.48" height="3.10" fill="#2896c8"/>
<line x1="151.20" y1="644.90" x2="154.40" y2="644.90" stroke="#222222" stroke-width="1.4"/>
<text x="147.80" y="647.40" font-size="6.65" text-anchor="end" fill="#2a2a2a" stroke="#2a2a2a" stroke-width="0.18">Tumor Microenvironment Pathway</text>
<rect x="171.30" y="643.35" width="36.80" height="3.10" fill="#2896c8"/>
<line x1="151.20" y1="651.00" x2="154.40" y2="651.00" stroke="#222222" stroke-width="1.4"/>
<text x="147.80" y="653.50" font-size="6.65" text-anchor="end" fill="#2a2a2a" stroke="#2a2a2a" stroke-width="0.18">Actin Cytoskeleton Signaling</text>
<rect x="196.05" y="649.45" width="12.05" height="3.10" fill="#2896c8"/>
<line x1="154.30" y1="656.00" x2="154.30" y2="659.00" stroke="#222222" stroke-width="1.0"/>
<text x="154.10" y="668.10" font-size="6.85" text-anchor="middle" fill="#2a2a2a" stroke="#2a2a2a" stroke-width="0.12">–4</text>
<line x1="181.50" y1="656.00" x2="181.50" y2="659.00" stroke="#222222" stroke-width="1.0"/>
<text x="181.30" y="668.10" font-size="6.85" text-anchor="middle" fill="#2a2a2a" stroke="#2a2a2a" stroke-width="0.12">–2</text>
<line x1="208.70" y1="656.00" x2="208.70" y2="659.00" stroke="#222222" stroke-width="1.0"/>
<text x="208.70" y="668.10" font-size="6.85" text-anchor="middle" fill="#2a2a2a" stroke="#2a2a2a" stroke-width="0.12">0</text>
<line x1="235.90" y1="656.00" x2="235.90" y2="659.00" stroke="#222222" stroke-width="1.0"/>
<text x="235.90" y="668.10" font-size="6.85" text-anchor="middle" fill="#2a2a2a" stroke="#2a2a2a" stroke-width="0.12">2</text>
<line x1="263.10" y1="656.00" x2="263.10" y2="659.00" stroke="#222222" stroke-width="1.0"/>
<text x="263.10" y="668.10" font-size="6.85" text-anchor="middle" fill="#2a2a2a" stroke="#2a2a2a" stroke-width="0.12">4</text>
<text x="210.30" y="680.30" font-size="9.8" text-anchor="middle" textLength="22" lengthAdjust="spacingAndGlyphs" fill="#2a2a2a" stroke="#2a2a2a" stroke-width="0.15">Z-Score</text>
<text x="289.90" y="487.50" font-size="9.1" textLength="133" lengthAdjust="spacingAndGlyphs" fill="#222" stroke="#222" stroke-width="0.2">Cytokine and Immune Regulation</text>
<line x1="401.00" y1="493.00" x2="401.00" y2="521.70" stroke="#222222" stroke-width="1.3"/>
<line x1="401.00" y1="518.70" x2="512.40" y2="518.70" stroke="#222222" stroke-width="1.3"/>
<line x1="455.50" y1="493.10" x2="455.50" y2="518.70" stroke="#1e1e28" stroke-width="1.45"/>
<line x1="397.80" y1="495.90" x2="401.00" y2="495.90" stroke="#222222" stroke-width="1.4"/>
<text x="394.40" y="498.40" font-size="6.65" text-anchor="end" fill="#2a2a2a" stroke="#2a2a2a" stroke-width="0.18">LXR/RXR Activation</text>
<rect x="450.88" y="494.35" width="4.02" height="3.10" fill="#e4b21e"/>
<line x1="397.80" y1="501.87" x2="401.00" y2="501.87" stroke="#222222" stroke-width="1.4"/>
<text x="394.40" y="504.37" font-size="6.65" text-anchor="end" fill="#2a2a2a" stroke="#2a2a2a" stroke-width="0.18">IL-6 Signaling</text>
<rect x="425.58" y="500.32" width="29.32" height="3.10" fill="#e4b21e"/>
<line x1="397.80" y1="507.84" x2="401.00" y2="507.84" stroke="#222222" stroke-width="1.4"/>
<text x="394.40" y="510.34" font-size="6.65" text-anchor="end" fill="#2a2a2a" stroke="#2a2a2a" stroke-width="0.18">IL-8 Signaling</text>
<rect x="413.34" y="506.29" width="41.56" height="3.10" fill="#e4b21e"/>
<line x1="397.80" y1="513.81" x2="401.00" y2="513.81" stroke="#222222" stroke-width="1.4"/>
<text x="394.40" y="516.31" font-size="6.65" text-anchor="end" fill="#2a2a2a" stroke="#2a2a2a" stroke-width="0.18">IL-15 Production</text>
<rect x="413.34" y="512.26" width="41.56" height="3.10" fill="#e4b21e"/>
<line x1="401.10" y1="518.70" x2="401.10" y2="521.70" stroke="#222222" stroke-width="1.0"/>
<text x="400.90" y="530.80" font-size="6.85" text-anchor="middle" fill="#2a2a2a" stroke="#2a2a2a" stroke-width="0.12">–4</text>
<line x1="428.30" y1="518.70" x2="428.30" y2="521.70" stroke="#222222" stroke-width="1.0"/>
<text x="428.10" y="530.80" font-size="6.85" text-anchor="middle" fill="#2a2a2a" stroke="#2a2a2a" stroke-width="0.12">–2</text>
<line x1="455.50" y1="518.70" x2="455.50" y2="521.70" stroke="#222222" stroke-width="1.0"/>
<text x="455.50" y="530.80" font-size="6.85" text-anchor="middle" fill="#2a2a2a" stroke="#2a2a2a" stroke-width="0.12">0</text>
<line x1="482.70" y1="518.70" x2="482.70" y2="521.70" stroke="#222222" stroke-width="1.0"/>
<text x="482.70" y="530.80" font-size="6.85" text-anchor="middle" fill="#2a2a2a" stroke="#2a2a2a" stroke-width="0.12">2</text>
<line x1="509.90" y1="518.70" x2="509.90" y2="521.70" stroke="#222222" stroke-width="1.0"/>
<text x="509.90" y="530.80" font-size="6.85" text-anchor="middle" fill="#2a2a2a" stroke="#2a2a2a" stroke-width="0.12">4</text>
<text x="457.10" y="543.00" font-size="9.8" text-anchor="middle" textLength="22" lengthAdjust="spacingAndGlyphs" fill="#2a2a2a" stroke="#2a2a2a" stroke-width="0.15">Z-Score</text>
<text x="290.10" y="555.50" font-size="9.1" textLength="100.5" lengthAdjust="spacingAndGlyphs" fill="#222" stroke="#222" stroke-width="0.2">Cell Signaling Regulation</text>
<line x1="401.10" y1="561.90" x2="401.10" y2="596.80" stroke="#222222" stroke-width="1.3"/>
<line x1="401.10" y1="593.80" x2="512.30" y2="593.80" stroke="#222222" stroke-width="1.3"/>
<line x1="455.40" y1="561.90" x2="455.40" y2="593.80" stroke="#1e1e28" stroke-width="1.45"/>
<line x1="397.90" y1="564.20" x2="401.10" y2="564.20" stroke="#222222" stroke-width="1.4"/>
<text x="394.50" y="566.70" font-size="6.65" text-anchor="end" fill="#2a2a2a" stroke="#2a2a2a" stroke-width="0.18">Gαi Signaling</text>
<rect x="442.75" y="562.65" width="12.05" height="3.10" fill="#c30a64"/>
<line x1="397.90" y1="570.27" x2="401.10" y2="570.27" stroke="#222222" stroke-width="1.4"/>
<text x="394.50" y="572.77" font-size="6.65" text-anchor="end" fill="#2a2a2a" stroke="#2a2a2a" stroke-width="0.18">GPCR Signaling</text>
<rect x="420.04" y="568.72" width="34.76" height="3.10" fill="#c30a64"/>
<line x1="397.90" y1="576.34" x2="401.10" y2="576.34" stroke="#222222" stroke-width="1.4"/>
<text x="394.50" y="578.84" font-size="6.65" text-anchor="end" fill="#2a2a2a" stroke="#2a2a2a" stroke-width="0.18">RAR Activation</text>
<rect x="435.68" y="574.79" width="19.12" height="3.10" fill="#c30a64"/>
<line x1="397.90" y1="582.41" x2="401.10" y2="582.41" stroke="#222222" stroke-width="1.4"/>
<text x="394.50" y="584.91" font-size="6.65" text-anchor="end" fill="#2a2a2a" stroke="#2a2a2a" stroke-width="0.18">STAT3 Pathway</text>
<rect x="413.51" y="580.86" width="41.29" height="3.10" fill="#c30a64"/>
<line x1="397.90" y1="588.48" x2="401.10" y2="588.48" stroke="#222222" stroke-width="1.4"/>
<text x="394.50" y="590.98" font-size="6.65" text-anchor="end" fill="#2a2a2a" stroke="#2a2a2a" stroke-width="0.18">PTEN Signaling</text>
<rect x="456.00" y="586.93" width="44.06" height="3.10" fill="#c30a64"/>
<line x1="401.00" y1="593.80" x2="401.00" y2="596.80" stroke="#222222" stroke-width="1.0"/>
<text x="400.80" y="605.90" font-size="6.85" text-anchor="middle" fill="#2a2a2a" stroke="#2a2a2a" stroke-width="0.12">–4</text>
<line x1="428.20" y1="593.80" x2="428.20" y2="596.80" stroke="#222222" stroke-width="1.0"/>
<text x="428.00" y="605.90" font-size="6.85" text-anchor="middle" fill="#2a2a2a" stroke="#2a2a2a" stroke-width="0.12">–2</text>
<line x1="455.40" y1="593.80" x2="455.40" y2="596.80" stroke="#222222" stroke-width="1.0"/>
<text x="455.40" y="605.90" font-size="6.85" text-anchor="middle" fill="#2a2a2a" stroke="#2a2a2a" stroke-width="0.12">0</text>
<line x1="482.60" y1="593.80" x2="482.60" y2="596.80" stroke="#222222" stroke-width="1.0"/>
<text x="482.60" y="605.90" font-size="6.85" text-anchor="middle" fill="#2a2a2a" stroke="#2a2a2a" stroke-width="0.12">2</text>
<line x1="509.80" y1="593.80" x2="509.80" y2="596.80" stroke="#222222" stroke-width="1.0"/>
<text x="509.80" y="605.90" font-size="6.85" text-anchor="middle" fill="#2a2a2a" stroke="#2a2a2a" stroke-width="0.12">4</text>
<text x="457.00" y="618.10" font-size="9.8" text-anchor="middle" textLength="22" lengthAdjust="spacingAndGlyphs" fill="#2a2a2a" stroke="#2a2a2a" stroke-width="0.15">Z-Score</text>
</svg>
</body></html>
